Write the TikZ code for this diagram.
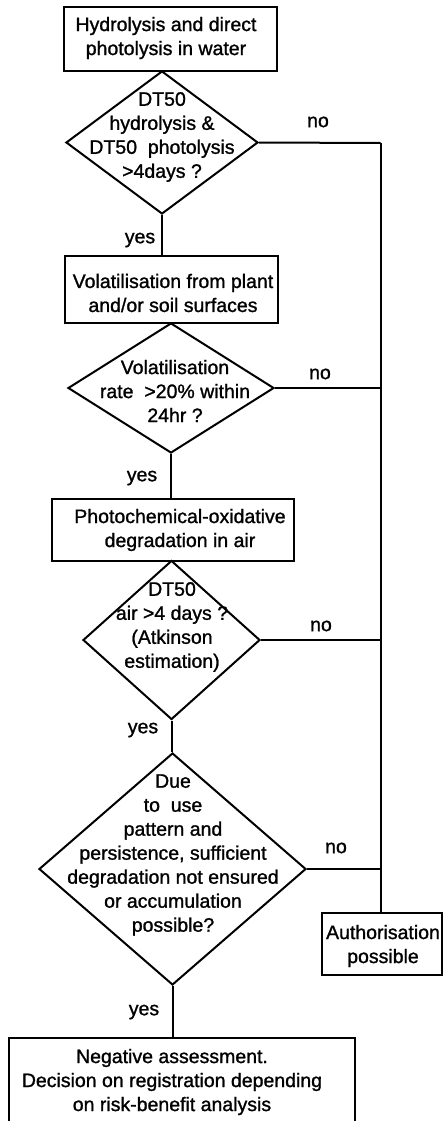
\documentclass[tikz,border=0pt]{standalone}
\usepackage{fontspec}
\setmainfont[FakeBold=1.2,AutoFakeBold=1.2]{Liberation Sans}
\usetikzlibrary{shapes.geometric}
\begin{document}
\begin{tikzpicture}[x=1pt,y=-1pt,
  line width=2pt,
  box/.style={draw, rectangle, inner sep=0pt},
  dia/.style={draw, diamond, inner sep=0pt},
  txt/.style={align=center, inner sep=0pt, font=\fontsize{19.5}{24}\selectfont\bfseries},
  lbl/.style={inner sep=0pt, font=\fontsize{19.5}{24}\selectfont\bfseries}]
\useasboundingbox (0,0) rectangle (443,1121);
\clip (0,0) rectangle (443,1121);
% boxes
\node[box, minimum width=213pt, minimum height=64pt] (b1) at (170.5,39) {};
\node[txt] (t1) at (166,38) {Hydrolysis and direct\\photolysis in water};
\node[dia, minimum width=192pt, minimum height=143pt] (d1) at (162,142.5) {};
\node[txt] (td1) at (162,137) {DT50\\hydrolysis \&\\DT50~ photolysis\\>4days ?};
\node[box, minimum width=213pt, minimum height=67pt] (b2) at (171.5,289.5) {};
\node[txt] (t2) at (173,293) {Volatilisation from plant\\and/or soil surfaces};
\node[dia, minimum width=206pt, minimum height=130pt] (d2) at (171,388) {};
\node[txt] (td2) at (175,391) {Volatilisation\\rate~ >20\% within\\24hr ?};
\node[box, minimum width=242pt, minimum height=62pt] (b3) at (173,530) {};
\node[txt] (t3) at (180,530) {Photochemical-oxidative\\degradation in air};
\node[dia, minimum width=177pt, minimum height=159pt] (d3) at (171.5,640) {};
\node[txt] (td3) at (172,627) {DT50\\air >4 days ?\\(Atkinson\\estimation)};
\node[dia, minimum width=267pt, minimum height=232pt] (d4) at (172.5,869) {};
\node[txt] (td4) at (173,855) {Due\\to~ use\\pattern and\\persistence, sufficient\\degradation not ensured\\or accumulation\\possible?};
\node[box, minimum width=120pt, minimum height=62pt] (auth) at (382,944) {};
\node[txt] (ta) at (383,946) {Authorisation\\possible};
\node[box, minimum width=346pt, minimum height=110pt] (b5) at (182,1093) {};
\node[txt] (t5) at (172,1082) {Negative assessment.\\Decision on registration depending\\on risk-benefit analysis};
% right collector line
\coordinate (j1) at (380.5,143);
\draw (d1.east) -- (j1);
\draw (j1) -- (j1 |- auth.north);
\draw (d2.east) -- (d2.east -| j1);
\draw (d3.east) -- (d3.east -| j1);
\draw (d4.east) -- (d4.east -| j1);
% yes connectors
\draw (d1.south) -- (d1.south |- b2.north);
\draw (d2.south) -- (d2.south |- b3.north);
\draw (d3.south) -- (d3.south |- d4.north);
\draw (d4.south) -- (d4.south |- b5.north);
% labels
\node[lbl] (n1) at (318,122) {no};
\node[lbl] (n2) at (320,374) {no};
\node[lbl] (n3) at (321,626) {no};
\node[lbl] (n4) at (336,848) {no};
\node[lbl] (y1) at (140,240) {yes};
\node[lbl] (y2) at (142,478) {yes};
\node[lbl] (y3) at (143,730) {yes};
\node[lbl] (y4) at (144,1012) {yes};
\end{tikzpicture}
\end{document}
